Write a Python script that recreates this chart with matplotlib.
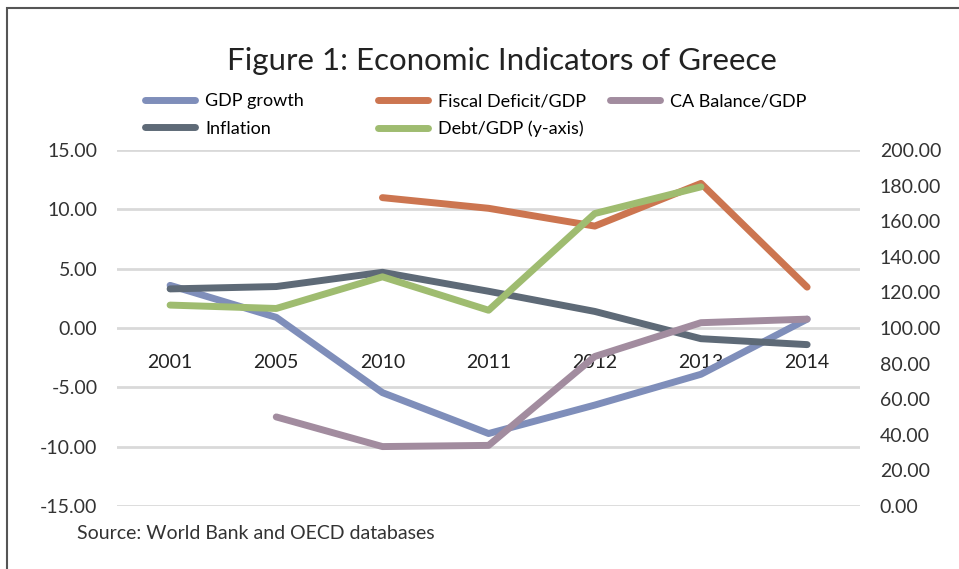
import matplotlib.pyplot as plt
import numpy as np
from matplotlib.patches import Rectangle

years = ['2001', '2005', '2010', '2011', '2012', '2013', '2014']
gdp_growth = [3.6, 0.9, -5.45, -8.9, -6.5, -3.9, 0.75]
inflation = [3.3, 3.5, 4.7, 3.1, 1.4, -0.9, -1.4]
fiscal_deficit = [np.nan, np.nan, 11.0, 10.1, 8.6, 12.2, 3.45]
ca_balance = [np.nan, -7.5, -10.0, -9.9, -2.4, 0.45, 0.75]
debt_gdp = [112.9, 111.0, 128.8, 110.0, 164.4, 179.4, np.nan]

font = 'Lato'
fs = 14
fig = plt.figure(figsize=(9.59, 5.69), dpi=100)
ax = fig.add_axes([0.122, 0.111, 0.775, 0.625])
ax2 = ax.twinx()

x = np.arange(len(years))
lw = 5
ax.plot(x, gdp_growth, color='#7F8EBA', lw=lw, label='GDP growth', solid_capstyle='round')
ax.plot(x, inflation, color='#5E6A77', lw=lw, label='Inflation', solid_capstyle='round')
ax.plot(x, fiscal_deficit, color='#CC7550', lw=lw, label='Fiscal Deficit/GDP', solid_capstyle='round')
ax2.plot(x, debt_gdp, color='#9FBC70', lw=lw, label='Debt/GDP (y-axis)', solid_capstyle='round')
ax.plot(x, ca_balance, color='#A28C9F', lw=lw, label='CA Balance/GDP', solid_capstyle='round')

# left axis
ax.set_ylim(-15, 15)
ax.set_yticks(np.arange(-15, 16, 5))
ax.set_yticklabels([f'{v:.2f}' for v in np.arange(-15, 16, 5)], fontsize=fs, family=font, color='#333333')
ax.set_xlim(-0.5, len(years) - 0.5)
ax.grid(axis='y', color='#D9D9D9', lw=2)
ax.set_axisbelow(True)
for s in ax.spines.values():
    s.set_visible(False)
for s in ax2.spines.values():
    s.set_visible(False)
ax.tick_params(axis='y', length=0, pad=14)

# category labels sit on the zero line
ax.spines['bottom'].set_position(('data', 0))
ax.set_xticks(x)
ax.set_xticklabels(years, fontsize=fs, family=font, color='#222222')
ax.tick_params(axis='x', length=0, pad=19)

# right axis
ax2.set_ylim(0, 200)
ax2.set_yticks(np.arange(0, 201, 20))
ax2.set_yticklabels([f'{v:.2f}' for v in np.arange(0, 201, 20)], fontsize=fs, family=font, color='#333333')
ax2.tick_params(axis='y', length=0, pad=14)

# legend: equal-width columns like Excel
h1, l1 = ax.get_legend_handles_labels()
h2, l2 = ax2.get_legend_handles_labels()
hd = dict(zip(l1 + l2, h1 + h2))
columns = [['GDP growth', 'Inflation'], ['Fiscal Deficit/GDP', 'Debt/GDP (y-axis)'], ['CA Balance/GDP']]
col_x = [0.151, 0.394, 0.636]
for cx, labels in zip(col_x, columns):
    fig.legend([hd[k] for k in labels], labels, loc='upper left',
               bbox_to_anchor=(cx, 0.836), frameon=False, borderaxespad=0, borderpad=0,
               prop={'family': font, 'size': 13}, handlelength=2.8,
               handletextpad=0.55, labelspacing=0.62)

fig.text(0.523, 0.893, 'Figure 1: Economic Indicators of Greece', ha='center', va='center',
         fontsize=22.5, family=font, color='#222222')
fig.text(0.08, 0.063, 'Source: World Bank and OECD databases', ha='left', va='center',
         fontsize=fs, family=font, color='#333333')

# chart border
fig.patches.append(Rectangle((0.007, -0.1), 1.2, 1.086, transform=fig.transFigure,
                             fill=False, edgecolor='#555555', lw=1.5))

fig.savefig('out.png', dpi=100)
